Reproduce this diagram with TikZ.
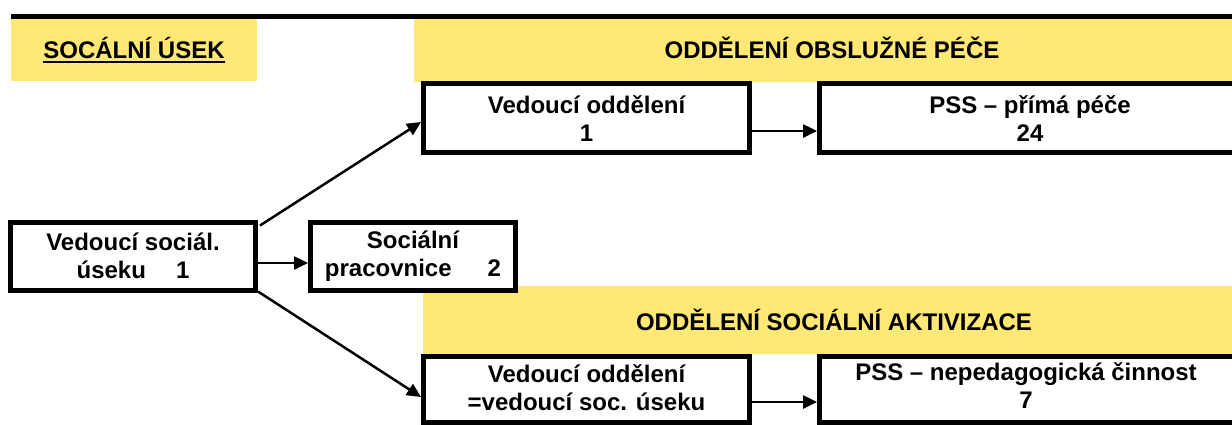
\documentclass[tikz,border=0pt]{standalone}
\usepackage{fontspec}
\setmainfont{Liberation Sans}
\usetikzlibrary{arrows.meta,calc}
\definecolor{hdr}{HTML}{FFE875}
\begin{document}
\begin{tikzpicture}[x=1pt,y=-1pt,
  txt/.style={font=\bfseries\fontsize{24}{28}\selectfont},
  box/.style={draw=black,line width=5pt,fill=white,rectangle,inner sep=0pt,align=center,txt},
  lbl/.style={inner sep=0pt,txt,anchor=base,align=center},
  arr/.style={line width=2.5pt,-{Triangle[length=14pt,width=13pt]}},
]
\useasboundingbox (0,0) rectangle (1232,424);
\clip (0,0) rectangle (1232,424);
\fill[white] (0,0) rectangle (1232,424);
% yellow header bands
\fill[hdr] (11,19) rectangle (257,81);
\fill[hdr] (414,19) rectangle (1240,82);
\fill[hdr] (423,286) rectangle (1240,354);
% top rule
\draw[line width=5pt] (11,16.5) -- (1240,16.5);
% header texts
\node[lbl] (sock) at (134,58) {SOCÁLNÍ ÚSEK};
\draw[line width=2.4pt] ($(sock.base west)+(0,4.2)$) -- ($(sock.base east)+(0,4.2)$);
\node[lbl] (h1) at (832,58) {ODDĚLENÍ OBSLUŽNÉ PÉČE};
\node[lbl] (h2) at (834,330) {ODDĚLENÍ SOCIÁLNÍ AKTIVIZACE};
% boxes
\node[box,minimum width=245pt,minimum height=68pt] (vs) at (133,256) {Vedoucí sociál.\\úseku\hspace{30pt}1};
\node[box,minimum width=205pt,minimum height=68pt] (sp) at (413,256) {Sociální\\pracovnice\hspace{36pt}2};
\node[box,minimum width=326pt,minimum height=69pt] (vo1) at (586.5,118) {};
\node[lbl] (vo1t) at (586.5,141) {Vedoucí oddělení\\1};
\node[box,minimum width=419pt,minimum height=69pt] (pss1) at (1029,118) {};
\node[lbl] (pss1t) at (1030,141) {PSS – přímá péče\\24};
\node[box,minimum width=326pt,minimum height=66pt] (vo2) at (586.5,389.5) {};
\node[lbl] (vo2t) at (586.5,410) {Vedoucí oddělení\\=vedoucí soc. úseku};
\node[box,minimum width=419pt,minimum height=66pt] (pss2) at (1029,389.5) {};
\node[lbl] (pss2t) at (1026,408) {PSS – nepedagogická činnost\\7};
% connectors
\draw[arr] ($(vs.east)+(0,7)$) -- ($(sp.west)+(0,7)$);
\draw[arr] ($(vo1.east)+(0,13)$) -- ($(pss1.west)+(0,13)$);
\draw[arr] ($(vo2.east)+(0,12.5)$) -- ($(pss2.west)+(0,12.5)$);
\draw[arr] ($(vs.north east)+(2,6)$) -- ($(vo1.west)+(0,4)$);
\draw[arr] ($(vs.south east)+(0,-1)$) -- ($(vo2.west)+(0,7.5)$);
\end{tikzpicture}
\end{document}
